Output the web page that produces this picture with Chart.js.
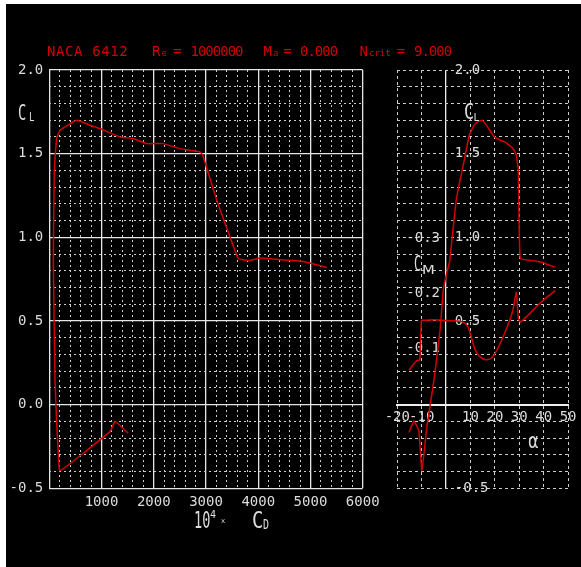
<!DOCTYPE html>
<html><head><meta charset="utf-8">
<script src="https://cdn.jsdelivr.net/npm/chart.js@4.4.1/dist/chart.umd.min.js"></script>
<style>
html,body{margin:0;padding:0;background:#fff;width:581px;height:567px;overflow:hidden;}
#bg{position:absolute;left:6px;top:4px;width:575px;height:563px;background:#000;}
canvas{position:absolute;left:0;top:0;}
.t{position:absolute;white-space:pre;font-family:'DejaVu Sans Mono',monospace;line-height:1;transform-origin:0 0;}
</style></head><body>
<div id="bg"></div>
<canvas id="cA" width="581" height="567"></canvas>
<canvas id="cB" width="581" height="567"></canvas>
<script>
// ---- data ----
// Drag polar: 10^4 x CD vs CL
const cdPolar = [1510, 1260, 1165, 205, 172, 140, 110, 77, 96, 140, 205, 525, 780, 970, 1355, 1600, 1870, 2180, 2500, 2887, 2938, 3207, 3462, 3621, 3845, 4036, 4420, 4803, 5060, 5314];
const clPolar = [-0.17, -0.10, -0.16, -0.395, -0.29, -0.10, 0.14, 0.86, 1.40, 1.59, 1.64, 1.70, 1.67, 1.65, 1.60, 1.59, 1.56, 1.56, 1.53, 1.51, 1.49, 1.22, 1.00, 0.872, 0.862, 0.876, 0.866, 0.858, 0.84, 0.82];
// Lift curve: alpha vs CL
const alphaCL = [-15.2, -13.2, -11.2, -9.9, -7.9, -5.0, -2.5, -1.2, 0, 1.5, 4.1, 6.0, 7.7, 9.5, 11.5, 13.0, 14.8, 17.0, 19.5, 22.1, 24.1, 27.5, 28.8, 29.6, 30.4, 35.5, 39.5, 44.8];
const clAlpha = [-0.166, -0.096, -0.156, -0.395, -0.136, 0.144, 0.44, 0.68, 0.77, 0.86, 1.22, 1.36, 1.48, 1.61, 1.67, 1.69, 1.70, 1.66, 1.605, 1.58, 1.57, 1.53, 1.49, 1.40, 0.874, 0.86, 0.85, 0.82];
// Moment curve: alpha vs CM
const alphaCM = [-15.2, -13.5, -11.9, -10.8, -10.1, -9.2, -5.0, -1.2, 3.0, 6.8, 8.5, 9.5, 10.5, 11.5, 12.8, 14.1, 15.5, 16.8, 18.2, 19.5, 21.0, 22.8, 24.5, 26.1, 27.5, 28.8, 29.6, 30.5, 34.0, 37.5, 41.0, 44.8];
const cmAlpha = [-0.060, -0.070, -0.078, -0.079, -0.151, -0.151, -0.152, -0.151, -0.150, -0.148, -0.142, -0.133, -0.118, -0.102, -0.090, -0.084, -0.080, -0.079, -0.081, -0.087, -0.098, -0.115, -0.133, -0.151, -0.172, -0.202, -0.155, -0.148, -0.162, -0.178, -0.192, -0.205];
// tick labels
const cmTicks = [-0.3, -0.2, -0.1];

const RED = '#d40000', TICK = '#dcdcdc', MAJ = '#e6e6e6', MIN = '#cccccc', AX = '#eeeeee';
const MONO = "'DejaVu Sans Mono', monospace";
Chart.defaults.font.family = MONO;

const near = (v, s) => Math.abs(v / s - Math.round(v / s)) < 1e-6;
const tv = c => (c && c.tick) ? c.tick.value : null;

new Chart(document.getElementById('cA'), {
  type: 'line',
  data: { datasets: [{ data: cdPolar.map((x, i) => ({ x: x, y: clPolar[i] })), borderColor: RED, borderWidth: 1.5, pointRadius: 0, tension: 0.1, fill: false }] },
  options: {
    responsive: false, animation: false, events: [],
    layout: { padding: { left: 6, right: 581 - 362.7, top: 70, bottom: 567 - 488.3 - 60 } },
    plugins: { legend: { display: false }, tooltip: { enabled: false } },
    scales: {
      x: {
        type: 'linear', position: 'bottom', min: 0, max: 6000,
        ticks: { stepSize: 200, autoSkip: false, maxRotation: 0, minRotation: 0, padding: 5.8, color: TICK, font: { size: 14 },
          callback: v => (v !== 0 && near(v, 1000)) ? String(v) : '' },
        grid: { drawTicks: false, color: c => (tv(c) === null || near(tv(c), 1000)) ? MAJ : MIN, lineWidth: c => (tv(c) === null || near(tv(c), 1000)) ? 1.3 : 1 },
        border: { display: false, dash: c => (tv(c) === null || near(tv(c), 1000)) ? [] : [2, 3] },
        afterFit: s => { s.height = 60; }
      },
      y: {
        type: 'linear', position: 'left', min: -0.5, max: 2.0,
        ticks: { stepSize: 0.1, autoSkip: false, padding: 6, color: TICK, font: { size: 14 },
          callback: v => near(v, 0.5) ? v.toFixed(1) : '' },
        grid: { drawTicks: false, color: c => (tv(c) === null || near(tv(c), 0.5)) ? MAJ : MIN, lineWidth: c => (tv(c) === null || near(tv(c), 0.5)) ? 1.3 : 1 },
        border: { display: false, dash: c => (tv(c) === null || near(tv(c), 0.5)) ? [] : [2, 3] },
        afterFit: s => { s.width = 43.3; }
      }
    }
  }
});

new Chart(document.getElementById('cB'), {
  type: 'line',
  data: { datasets: [
    { data: alphaCL.map((x, i) => ({ x: x, y: clAlpha[i] })), yAxisID: 'y', borderColor: RED, borderWidth: 1.5, pointRadius: 0, tension: 0.1, fill: false },
    { data: alphaCM.map((x, i) => ({ x: x, y: cmAlpha[i] })), yAxisID: 'cm', borderColor: RED, borderWidth: 1.5, pointRadius: 0, tension: 0.15, fill: false }
  ] },
  options: {
    responsive: false, animation: false, events: [],
    layout: { padding: { left: 397.3, right: 581 - 571.7, top: 70, bottom: 567 - 488.3 } },
    plugins: { legend: { display: false }, tooltip: { enabled: false } },
    scales: {
      x: {
        type: 'linear', position: { y: 0 }, min: -20, max: 50,
        ticks: { stepSize: 10, autoSkip: false, maxRotation: 0, minRotation: 0, padding: 4.5, color: TICK, font: { size: 14 },
          callback: v => v === 0 ? '' : String(v) },
        grid: { drawTicks: false, color: c => tv(c) === 0 ? AX : MIN, lineWidth: c => tv(c) === 0 ? 1.3 : 1 },
        border: { display: true, color: AX, width: 2, dash: c => (tv(c) !== null && tv(c) !== 0) ? [3, 3] : [] },
        afterFit: s => { s.height = 0; }
      },
      y: {
        type: 'linear', position: 'left', min: -0.5, max: 2.0,
        ticks: { stepSize: 0.1, autoSkip: false, mirror: true, padding: 57.5, color: TICK, font: { size: 14 },
          callback: v => (near(v, 0.5) && Math.abs(v) > 1e-9) ? v.toFixed(1) : '' },
        grid: { drawTicks: false, color: c => (tv(c) !== null && Math.abs(tv(c)) < 1e-9) ? AX : MIN, lineWidth: 1 },
        border: { display: false, dash: c => (tv(c) !== null && Math.abs(tv(c)) < 1e-9) ? [] : [3, 3] },
        afterFit: s => { s.width = 0; }
      },
      cm: {
        type: 'linear', position: 'left', min: -0.607, max: 0.155, reverse: true,
        afterBuildTicks: s => { s.ticks = cmTicks.map(v => ({ value: v })); },
        ticks: { mirror: true, padding: 9, autoSkip: false, color: TICK, font: { size: 14 }, callback: v => Number(v).toFixed(1) },
        grid: { display: false, drawTicks: false }, border: { display: false },
        afterFit: s => { s.width = 0; }
      }
    }
  }
});

// ---- text labels ----
function put(txt, x, base, size, o) {
  o = o || {};
  const d = document.createElement('div');
  d.className = 't';
  d.textContent = txt;
  d.style.left = x + 'px';
  d.style.top = (base - 0.846 * size) + 'px';
  d.style.fontSize = size + 'px';
  d.style.color = o.color || TICK;
  if (o.fam) d.style.fontFamily = o.fam;
  if (o.ls !== undefined) d.style.letterSpacing = o.ls + 'px';
  if (o.sx) d.style.transform = 'scaleX(' + o.sx + ')';
  document.body.appendChild(d);
}
const R = { color: RED };
// title
put('NACA 6412', 47, 55.7, 14, { color: RED, ls: 0.6 });
put('R', 152, 55.7, 14, R); put('e', 161.5, 56.5, 9, R); put('=', 173, 55.7, 14, R); put('1000000', 190.5, 55.7, 14, { color: RED, ls: -1 });
put('M', 263.5, 55.7, 14, R); put('a', 273, 56.5, 9, R); put('=', 283.3, 55.7, 14, R); put('0.000', 300, 55.7, 14, { color: RED, ls: -1 });
put('N', 359.5, 55.7, 14, R); put('crit', 369, 56.5, 9, R); put('=', 396.8, 55.7, 14, R); put('9.000', 414, 55.7, 14, { color: RED, ls: -1 });
// left plot axis titles
put('C', 17.5, 120, 20.5, { sx: 0.67 });
put('L', 28.5, 121.7, 11.5, { sx: 0.8 });
put('10', 194, 528.3, 22.7, { sx: 0.6 });
put('4', 210, 518.3, 10, {});
put('x', 221, 523.5, 7, {});
put('C', 251.5, 528.3, 22.7, { sx: 0.83 });
put('D', 263, 530, 13.7, { sx: 0.73 });
// right plot axis titles
put('C', 464, 120, 21, { sx: 0.8 });
put('L', 473.5, 121.7, 10, {});
put('C', 414.3, 271.7, 21, { sx: 0.57 });
put('M', 421.5, 274, 12.3, { fam: "'DejaVu Sans', sans-serif", sx: 1.2 });
put('α', 527.5, 448.3, 21, { fam: "'DejaVu Sans', sans-serif", sx: 0.77 });
</script></body></html>
